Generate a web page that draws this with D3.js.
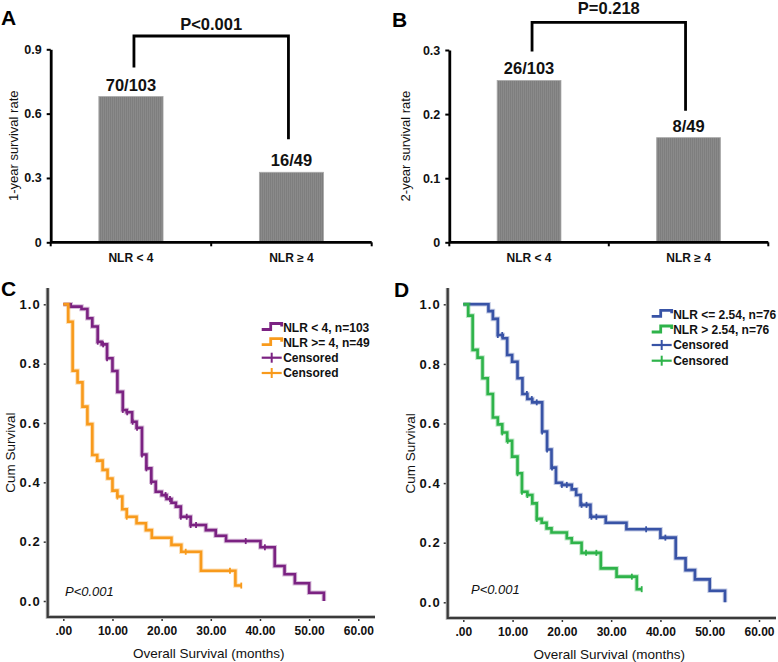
<!DOCTYPE html>
<html><head><meta charset="utf-8">
<script src="https://cdn.jsdelivr.net/npm/d3@7"></script>
<style>
body{margin:0;background:#fff}
svg{display:block}
text{font-family:"Liberation Sans",Arial,sans-serif}
</style>
</head><body>
<svg id="chart" width="778" height="662"></svg>
<script>
// ---------------- DATA ----------------
const barCategories = ["NLR < 4", "NLR \u2265 4"];
const groupTotals = [103, 49];
const oneYearSurvivors = [70, 16];
const twoYearSurvivors = [26, 8];
const barTicksA = [0, 0.3, 0.6, 0.9];
const barTicksB = [0, 0.1, 0.2, 0.3];
const pValueA = "P<0.001";
const pValueB = "P=0.218";

const kmXTicks = [0, 10, 20, 30, 40, 50, 60];
const kmYTicks = [0, 0.2, 0.4, 0.6, 0.8, 1.0];

// Panel C: NLR < 4 (n=103)
const cLowTimes = [0, 1.5, 3.7, 4.9, 5.9, 7.0, 7.8, 8.9, 10.0, 11.0, 12.1, 12.9, 14.0, 14.9, 16.0, 16.9, 17.9, 18.8, 20.0, 21.0, 22.0, 22.9, 23.9, 25.9, 29.0, 31.0, 33.1, 40.1, 43.0, 45.0, 47.1, 50.0, 53.0];
const cLowSurv  = [1.0, 0.992, 0.984, 0.953, 0.925, 0.874, 0.865, 0.818, 0.775, 0.705, 0.644, 0.636, 0.604, 0.584, 0.494, 0.447, 0.402, 0.368, 0.357, 0.344, 0.331, 0.318, 0.284, 0.256, 0.239, 0.220, 0.202, 0.181, 0.118, 0.090, 0.060, 0.028, 0.0];
const cLowCensor = [7.0, 8.1, 8.9, 12.1, 13.0, 14.1, 15.0, 16.0, 16.9, 17.9, 20.8, 21.7, 23.9, 25.1, 25.9, 27.0, 37.1, 41.0];
// Panel C: NLR >= 4 (n=49)
const cHighTimes = [0, 1.0, 1.9, 2.9, 3.9, 4.9, 5.9, 6.9, 8.0, 9.0, 10.0, 11.0, 12.0, 12.9, 14.9, 16.8, 18.0, 22.0, 24.0, 28.0, 35.0];
const cHighSurv  = [1.0, 0.941, 0.776, 0.737, 0.655, 0.596, 0.492, 0.473, 0.442, 0.413, 0.372, 0.352, 0.309, 0.284, 0.262, 0.239, 0.213, 0.189, 0.166, 0.102, 0.052];
const cHighCensor = [11.0, 12.9, 24.9, 33.9, 36.2];

// Panel D: NLR <= 2.54 (n=76)
const dLowTimes = [0, 5.1, 6.0, 7.0, 8.0, 8.9, 9.9, 11.0, 12.0, 13.0, 14.0, 16.0, 17.0, 17.9, 18.8, 20.0, 22.0, 22.9, 23.8, 25.8, 28.9, 33.1, 40.0, 43.1, 45.1, 47.0, 50.0, 53.1];
const dLowSurv  = [1.0, 0.977, 0.951, 0.897, 0.886, 0.830, 0.807, 0.752, 0.699, 0.682, 0.671, 0.573, 0.513, 0.452, 0.401, 0.394, 0.379, 0.360, 0.327, 0.287, 0.267, 0.245, 0.217, 0.148, 0.108, 0.077, 0.039, 0.0];
const dLowCensor = [7.0, 7.9, 12.9, 13.9, 14.9, 16.0, 17.0, 18.0, 20.0, 21.0, 24.0, 25.0, 26.0, 27.0, 37.1, 41.0];
// Panel D: NLR > 2.54 (n=76)
const dHighTimes = [0, 1.0, 1.9, 2.9, 3.9, 4.95, 6.0, 7.0, 7.9, 8.9, 9.9, 11.0, 11.9, 13.0, 14.0, 14.9, 15.9, 16.9, 17.9, 21.0, 22.0, 24.0, 27.9, 31.1, 35.2];
const dHighSurv  = [1.0, 0.962, 0.847, 0.821, 0.752, 0.699, 0.620, 0.597, 0.570, 0.542, 0.489, 0.433, 0.371, 0.360, 0.332, 0.280, 0.267, 0.248, 0.234, 0.215, 0.200, 0.166, 0.114, 0.086, 0.044];
const dHighCensor = [7.9, 9.0, 11.0, 11.9, 13.0, 14.9, 24.9, 27.0, 34.2, 36.2];

const legendC = ["NLR < 4, n=103", "NLR >= 4, n=49", "Censored", "Censored"];
const legendD = ["NLR <= 2.54, n=76", "NLR > 2.54, n=76", "Censored", "Censored"];

// ---------------- DRAW ----------------
const svg = d3.select("#chart");
svg.append("rect").attr("width", 778).attr("height", 662).attr("fill", "#fff");

const defs = svg.append("defs");
const pat = defs.append("pattern").attr("id", "hatch").attr("patternUnits", "userSpaceOnUse")
  .attr("width", 2).attr("height", 2);
pat.append("rect").attr("width", 2).attr("height", 2).attr("fill", "#8a8a8a");
pat.append("rect").attr("width", 1).attr("height", 2).attr("fill", "#7e7e7e");

function drawBarPanel(cfg) {
  const g = svg.append("g");
  const x = d3.scaleBand().domain(barCategories).range(cfg.xRange).paddingInner(0.6).paddingOuter(0.3);
  const y = d3.scaleLinear().domain([0, cfg.yMax]).range(cfg.yRange);
  const values = cfg.num.map((n, i) => n / groupTotals[i]);

  g.selectAll("rect.bar").data(barCategories).join("rect")
    .attr("x", d => x(d)).attr("width", x.bandwidth())
    .attr("y", (d, i) => y(values[i])).attr("height", (d, i) => y(0) - y(values[i]))
    .attr("fill", "url(#hatch)").attr("stroke", "#a8a8a8").attr("stroke-width", 0.8);

  g.selectAll("text.val").data(barCategories).join("text")
    .attr("x", d => x(d) + x.bandwidth() / 2).attr("y", (d, i) => y(values[i]) - 6)
    .attr("text-anchor", "middle").attr("font-weight", "bold").attr("font-size", 16.5)
    .attr("fill", "#111").text((d, i) => cfg.num[i] + "/" + groupTotals[i]);

  const ya = g.append("g").attr("transform", `translate(${cfg.xRange[0]},0)`)
    .call(d3.axisLeft(y).tickValues(cfg.ticks).tickSize(4).tickSizeOuter(0).tickPadding(5)
      .tickFormat(d => d === 0 ? "0" : String(d)));
  ya.select(".domain").attr("stroke", "#000").attr("stroke-width", 2.8);
  ya.selectAll(".tick line").attr("stroke", "#000").attr("stroke-width", 2);
  ya.selectAll(".tick text").attr("font-size", 12.5).attr("font-weight", "bold").attr("fill", "#111")
    .attr("font-family", "Liberation Sans, Arial, sans-serif");

  const y0 = y(0);
  g.append("line").attr("x1", cfg.xRange[0]).attr("x2", cfg.xRange[1]).attr("y1", y0).attr("y2", y0)
    .attr("stroke", "#000").attr("stroke-width", 2.8);
  const bounds = [cfg.xRange[0], cfg.xRange[0] + x.step(), cfg.xRange[1]];
  g.selectAll("line.xt").data(bounds).join("line")
    .attr("x1", d => d).attr("x2", d => d).attr("y1", y0).attr("y2", y0 + 4)
    .attr("stroke", "#000").attr("stroke-width", 2);
  g.selectAll("text.xl").data(barCategories).join("text")
    .attr("x", d => x(d) + x.bandwidth() / 2).attr("y", y0 + 20)
    .attr("text-anchor", "middle").attr("font-weight", "bold").attr("font-size", 12)
    .attr("fill", "#111").text(d => d);

  const cx = barCategories.map(d => x(d) + x.bandwidth() / 2);
  const lx = cx[0] + 3, rx = cx[1] - 3;
  g.append("path")
    .attr("d", `M${lx},${y(values[0]) - 29} V${cfg.bracketY} H${rx} V${y(values[1]) - cfg.rightGap}`)
    .attr("fill", "none").attr("stroke", "#000").attr("stroke-width", 2.8);
  g.append("text").attr("x", (lx + rx) / 2).attr("y", cfg.pY)
    .attr("text-anchor", "middle").attr("font-weight", "bold").attr("font-size", 16.5)
    .attr("fill", "#111").text(cfg.p);

  g.append("text").attr("transform", `translate(${cfg.yTitleX},${(cfg.yRange[0] + cfg.yRange[1]) / 2}) rotate(-90)`)
    .attr("text-anchor", "middle").attr("dy", "0.35em").attr("font-size", 13).attr("fill", "#111")
    .text(cfg.yTitle);
  g.append("text").attr("x", cfg.letterX).attr("y", cfg.letterY).attr("font-weight", "bold")
    .attr("font-size", 21).attr("fill", "#000").text(cfg.letter);
}

drawBarPanel({
  xRange: [50.7, 371.7], yRange: [242.3, 49.3], yMax: 0.9, ticks: barTicksA,
  num: oneYearSurvivors, bracketY: 36, rightGap: 33, p: pValueA, pY: 30,
  yTitle: "1-year survival rate", yTitleX: 13, letter: "A", letterX: 1, letterY: 25
});
drawBarPanel({
  xRange: [449.3, 768.3], yRange: [242.3, 50], yMax: 0.3, ticks: barTicksB,
  num: twoYearSurvivors, bracketY: 22.3, rightGap: 27, p: pValueB, pY: 14,
  yTitle: "2-year survival rate", yTitleX: 405, letter: "B", letterX: 392, letterY: 27
});

function survAt(times, surv, t) {
  let s = surv[0];
  for (let i = 0; i < times.length; i++) if (times[i] <= t + 1e-9) s = surv[i];
  return s;
}

function drawKM(cfg) {
  const g = svg.append("g");
  const x = d3.scaleLinear().domain([0, 60]).range(cfg.xRange);
  const y = d3.scaleLinear().domain([0, 1]).range(cfg.yRange);

  const xa = g.append("g").attr("transform", `translate(0,${cfg.axisY})`)
    .call(d3.axisBottom(x).tickValues(kmXTicks).tickSize(4).tickPadding(5)
      .tickFormat(d => d === 0 ? ".00" : d3.format(".2f")(d)));
  xa.select(".domain").remove();
  xa.selectAll(".tick line").attr("stroke", "#333").attr("stroke-width", 1.5);
  xa.selectAll(".tick text").attr("font-size", 12).attr("font-weight", "bold").attr("fill", "#111")
    .attr("font-family", "Liberation Sans, Arial, sans-serif");
  const ya = g.append("g").attr("transform", `translate(${cfg.axisX},0)`)
    .call(d3.axisLeft(y).tickValues(kmYTicks).tickSize(4).tickPadding(3).tickFormat(d3.format(".1f")));
  ya.select(".domain").remove();
  ya.selectAll(".tick line").attr("stroke", "#333").attr("stroke-width", 1.5);
  ya.selectAll(".tick text").attr("font-size", 13).attr("font-weight", "bold").attr("fill", "#111")
    .attr("letter-spacing", 1).attr("font-family", "Liberation Sans, Arial, sans-serif");
  g.append("path")
    .attr("d", `M${cfg.axisX},${cfg.axisTop} V${cfg.axisY} H${cfg.axisRight}`)
    .attr("fill", "none").attr("stroke", "#bbb").attr("stroke-width", 4);
  g.append("path")
    .attr("d", `M${cfg.axisX},${cfg.axisTop} V${cfg.axisY} H${cfg.axisRight}`)
    .attr("fill", "none").attr("stroke", "#3a3a3a").attr("stroke-width", 2.2);

  const line = d3.line().x(d => x(d[0])).y(d => y(d[1])).curve(d3.curveStepAfter);
  cfg.series.forEach(s => {
    const pts = s.times.map((t, i) => [t, s.surv[i]]);
    const lastC = d3.max(s.censor);
    const lastT = s.times[s.times.length - 1];
    if (lastC > lastT) pts.push([lastC, s.surv[s.surv.length - 1]]);
    g.append("path").attr("d", line(pts)).attr("fill", "none")
      .attr("stroke", s.color).attr("stroke-opacity", 0.3).attr("stroke-width", 4.6);
    g.append("path").attr("d", line(pts)).attr("fill", "none")
      .attr("stroke", s.color).attr("stroke-width", 2.6);
    g.selectAll(null).data(s.censor).join("line")
      .attr("x1", d => x(d)).attr("x2", d => x(d))
      .attr("y1", d => y(survAt(s.times, s.surv, d)) - 3)
      .attr("y2", d => y(survAt(s.times, s.surv, d)) + 3)
      .attr("stroke", s.color).attr("stroke-width", 1.8);
  });

  const lg = g.append("g");
  cfg.legendText.forEach((txt, i) => {
    const yc = cfg.legendRows[i];
    const col = cfg.series[i % 2].color;
    const x0 = cfg.legendX;
    if (i < 2) {
      lg.append("path").attr("d", `M${x0},${yc + 2} H${x0 + 9} V${yc - 4} H${x0 + 20} V${yc - 1}`)
        .attr("fill", "none").attr("stroke", col).attr("stroke-width", 2.8);
    } else {
      lg.append("line").attr("x1", x0).attr("x2", x0 + 20).attr("y1", yc).attr("y2", yc)
        .attr("stroke", col).attr("stroke-width", 2.2);
      lg.append("line").attr("x1", x0 + 10).attr("x2", x0 + 10).attr("y1", yc - 5).attr("y2", yc + 5)
        .attr("stroke", col).attr("stroke-width", 2);
    }
    lg.append("text").attr("x", x0 + 21.5).attr("y", yc).attr("dy", "0.36em")
      .attr("font-size", 12).attr("font-weight", "bold").attr("fill", "#111").text(txt);
  });

  g.append("text").attr("x", cfg.pX).attr("y", cfg.pY).attr("font-style", "italic")
    .attr("font-size", 13).attr("fill", "#111").text("P<0.001");
  g.append("text").attr("x", (cfg.xRange[0] + cfg.xRange[1]) / 2 - 2).attr("y", cfg.axisY + 41)
    .attr("text-anchor", "middle").attr("font-size", 13.5).attr("fill", "#111").text("Overall Survival (months)");
  g.append("text").attr("transform", `translate(${cfg.yTitleX},${(cfg.yRange[0] + cfg.yRange[1]) / 2}) rotate(-90)`)
    .attr("text-anchor", "middle").attr("dy", "0.35em").attr("font-size", 13.5).attr("fill", "#111")
    .text("Cum Survival");
  g.append("text").attr("x", cfg.letterX).attr("y", cfg.letterY).attr("font-weight", "bold")
    .attr("font-size", 21).attr("fill", "#000").text(cfg.letter);
}

drawKM({
  xRange: [63.3, 358.3], yRange: [601, 304.3], axisX: 47.7, axisY: 617, axisTop: 288, axisRight: 375,
  series: [
    {times: cLowTimes, surv: cLowSurv, censor: cLowCensor, color: "#7b2282"},
    {times: cHighTimes, surv: cHighSurv, censor: cHighCensor, color: "#f89a1c"}
  ],
  legendText: legendC, legendX: 261.7, legendRows: [327.5, 342.7, 357.7, 373],
  pX: 65, pY: 596, yTitleX: 10, letter: "C", letterX: 1, letterY: 296
});
drawKM({
  xRange: [463.3, 759], yRange: [602.3, 304.3], axisX: 447.7, axisY: 618, axisTop: 288, axisRight: 776,
  series: [
    {times: dLowTimes, surv: dLowSurv, censor: dLowCensor, color: "#3853a6"},
    {times: dHighTimes, surv: dHighSurv, censor: dHighCensor, color: "#2eb34a"}
  ],
  legendText: legendD, legendX: 651.7, legendRows: [314.3, 330, 345, 360.7],
  pX: 471, pY: 594, yTitleX: 410, letter: "D", letterX: 394, letterY: 297
});
</script>
</body></html>
